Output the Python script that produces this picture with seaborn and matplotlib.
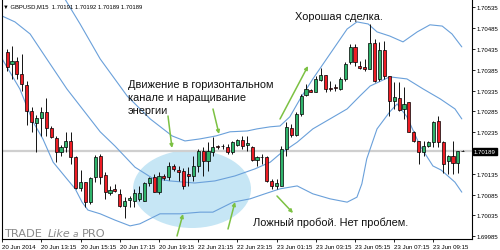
import numpy as np
import pandas as pd
import matplotlib
matplotlib.use("Agg")
import matplotlib.pyplot as plt
import seaborn as sns
from matplotlib.patches import Ellipse
from matplotlib.transforms import Affine2D, blended_transform_factory

# ---------------- data ----------------
bars = list(range(1, 95))
opens = [1.70428, 1.70399, 1.70406, 1.70375, 1.70348, 1.70286, 1.70257, 1.70269, 1.70284, 1.70245,
         1.70221, 1.70187, 1.70200, 1.70214, 1.70175, 1.70101, 1.70115, 1.70067, 1.70127, 1.70178,
         1.70132, 1.70089, 1.70099, 1.70087, 1.70058, 1.70072, 1.70070, 1.70075, 1.70070, 1.70113,
         1.70127, 1.70091, 1.70130, 1.70127, 1.70154, 1.70144, 1.70142, 1.70135, 1.70130, 1.70154,
         1.70190, 1.70166, 1.70187, 1.70202, 1.70202, 1.70200, 1.70187, 1.70204, 1.70216, 1.70204,
         1.70200, 1.70168, 1.70175, 1.70175, 1.70118, 1.70106, 1.70106, 1.70195, 1.70245, 1.70228,
         1.70279, 1.70324, 1.70336, 1.70332, 1.70360, 1.70372, 1.70341, 1.70344, 1.70339, 1.70363,
         1.70404, 1.70440, 1.70394, 1.70392, 1.70387, 1.70449, 1.70363, 1.70432, 1.70370, 1.70310,
         1.70317, 1.70291, 1.70308, 1.70236, 1.70214, 1.70187, 1.70202, 1.70211, 1.70262, 1.70211,
         1.70166, 1.70178, 1.70161, 1.70191]
highs = [1.70435, 1.70442, 1.70416, 1.70423, 1.70358, 1.70296, 1.70276, 1.70296, 1.70317, 1.70250,
         1.70226, 1.70204, 1.70236, 1.70236, 1.70178, 1.70144, 1.70115, 1.70127, 1.70180, 1.70183,
         1.70139, 1.70106, 1.70111, 1.70099, 1.70079, 1.70082, 1.70099, 1.70106, 1.70115, 1.70127,
         1.70135, 1.70139, 1.70135, 1.70163, 1.70159, 1.70154, 1.70149, 1.70151, 1.70178, 1.70195,
         1.70200, 1.70211, 1.70223, 1.70204, 1.70207, 1.70207, 1.70214, 1.70219, 1.70226, 1.70226,
         1.70202, 1.70178, 1.70183, 1.70178, 1.70123, 1.70123, 1.70202, 1.70260, 1.70255, 1.70284,
         1.70327, 1.70351, 1.70339, 1.70370, 1.70389, 1.70372, 1.70358, 1.70351, 1.70368, 1.70404,
         1.70447, 1.70447, 1.70406, 1.70411, 1.70495, 1.70459, 1.70452, 1.70454, 1.70370, 1.70356,
         1.70356, 1.70344, 1.70308, 1.70238, 1.70214, 1.70214, 1.70214, 1.70262, 1.70274, 1.70214,
         1.70180, 1.70214, 1.70191, 1.70192]
lows = [1.70382, 1.70363, 1.70363, 1.70334, 1.70252, 1.70236, 1.70187, 1.70226, 1.70226, 1.70221,
        1.70163, 1.70178, 1.70187, 1.70159, 1.70099, 1.70094, 1.70055, 1.70063, 1.70115, 1.70111,
        1.70075, 1.70084, 1.70091, 1.70055, 1.70029, 1.70055, 1.70055, 1.70070, 1.70070, 1.70106,
        1.70091, 1.70087, 1.70120, 1.70120, 1.70142, 1.70118, 1.70099, 1.70106, 1.70118, 1.70139,
        1.70130, 1.70142, 1.70178, 1.70195, 1.70195, 1.70183, 1.70183, 1.70202, 1.70195, 1.70190,
        1.70166, 1.70154, 1.70159, 1.70115, 1.70099, 1.70099, 1.70106, 1.70178, 1.70224, 1.70226,
        1.70274, 1.70322, 1.70332, 1.70332, 1.70358, 1.70332, 1.70334, 1.70334, 1.70336, 1.70358,
        1.70399, 1.70394, 1.70387, 1.70382, 1.70387, 1.70356, 1.70358, 1.70363, 1.70274, 1.70291,
        1.70286, 1.70267, 1.70236, 1.70212, 1.70159, 1.70178, 1.70200, 1.70200, 1.70200, 1.70137,
        1.70135, 1.70135, 1.70137, 1.70189]
closes = [1.70392, 1.70406, 1.70375, 1.70351, 1.70286, 1.70260, 1.70269, 1.70284, 1.70245, 1.70224,
          1.70187, 1.70200, 1.70214, 1.70175, 1.70101, 1.70115, 1.70067, 1.70125, 1.70175, 1.70127,
          1.70091, 1.70096, 1.70094, 1.70058, 1.70070, 1.70077, 1.70089, 1.70089, 1.70113, 1.70125,
          1.70091, 1.70130, 1.70125, 1.70154, 1.70147, 1.70139, 1.70106, 1.70130, 1.70154, 1.70190,
          1.70166, 1.70190, 1.70200, 1.70200, 1.70202, 1.70187, 1.70211, 1.70216, 1.70202, 1.70209,
          1.70168, 1.70175, 1.70175, 1.70118, 1.70106, 1.70113, 1.70195, 1.70248, 1.70228, 1.70279,
          1.70322, 1.70339, 1.70332, 1.70363, 1.70372, 1.70339, 1.70339, 1.70341, 1.70363, 1.70399,
          1.70440, 1.70404, 1.70389, 1.70387, 1.70449, 1.70358, 1.70432, 1.70370, 1.70310, 1.70320,
          1.70288, 1.70303, 1.70236, 1.70214, 1.70187, 1.70202, 1.70211, 1.70260, 1.70211, 1.70159,
          1.70178, 1.70161, 1.70191, 1.70189]

# Bollinger bands, sampled along the drawn curves (bar position, price)
upper_bar = [11.0, 12.8, 15.9, 20.0, 23.4, 25.5, 30.2, 34.7, 37.3, 40.4, 43.6, 46.5, 50.0, 52.0,
             54.7, 56.7, 58.7, 60.8, 63.4, 66.9, 70.4, 72.4, 74.7, 76.5, 79.1, 81.8, 84.7, 87.3,
             89.8, 91.8, 93.8]
upper_px = [1.70574, 1.70555, 1.70495, 1.70411, 1.70356, 1.70322, 1.70267, 1.70226, 1.70214,
            1.70219, 1.70226, 1.70236, 1.70238, 1.70243, 1.70248, 1.70250, 1.70272, 1.70315,
            1.70363, 1.70423, 1.70483, 1.70500, 1.70495, 1.70476, 1.70466, 1.70452, 1.70476,
            1.70493, 1.70490, 1.70471, 1.70440]
mid_bar = [0.0, 2.6, 5.7, 9.1, 13.2, 20.0, 23.0, 27.1, 30.6, 34.2, 39.3, 43.4, 47.5, 51.6, 54.7,
           56.7, 60.2, 63.4, 66.9, 70.4, 73.0, 75.1, 79.1, 82.6, 85.9, 89.4, 92.4, 93.8]
mid_px = [1.70514, 1.70500, 1.70471, 1.70411, 1.70339, 1.70236, 1.70202, 1.70151, 1.70125,
          1.70118, 1.70113, 1.70118, 1.70130, 1.70147, 1.70163, 1.70183, 1.70211, 1.70243,
          1.70267, 1.70291, 1.70322, 1.70346, 1.70368, 1.70363, 1.70339, 1.70315, 1.70291, 1.70267]
lower_bar = [0.0, 3.6, 6.3, 8.3, 10.4, 13.2, 14.9, 16.3, 17.5, 20.0, 23.0, 26.1, 28.1, 32.2, 36.3,
             40.4, 43.0, 47.1, 50.6, 53.6, 56.7, 60.2, 63.4, 66.9, 70.4, 72.4, 73.4, 74.4, 76.5,
             79.1, 80.6, 82.6, 85.3, 87.9, 89.6, 92.4, 93.8]
lower_px = [1.70411, 1.70339, 1.70260, 1.70219, 1.70163, 1.70123, 1.70099, 1.70067, 1.70048,
            1.70039, 1.70024, 1.70010, 1.70015, 1.70039, 1.70039, 1.70043, 1.70043, 1.70067,
            1.70075, 1.70087, 1.70099, 1.70106, 1.70087, 1.70075, 1.70067, 1.70079, 1.70111,
            1.70171, 1.70243, 1.70284, 1.70303, 1.70272, 1.70202, 1.70154, 1.70144, 1.70115, 1.70091]

current_price = 1.70189
tick_bars = [0, 8, 16, 24, 32, 40, 48, 56, 64, 72, 80, 88]
tick_labels = ["20 Jun 2014", "20 Jun 13:15", "20 Jun 15:15", "20 Jun 17:15", "20 Jun 19:15",
               "22 Jun 21:15", "22 Jun 23:15", "23 Jun 01:15", "23 Jun 03:15", "23 Jun 05:15",
               "23 Jun 07:15", "23 Jun 09:15"]
price_ticks = [1.69985, 1.70035, 1.70085, 1.70135, 1.70185, 1.70235, 1.70285, 1.70335,
               1.70385, 1.70435, 1.70485, 1.70535]
header = "\u25BC GBPUSD,M15  1.70191 1.70192 1.70189 1.70189"

# ---------------- figure ----------------
sns.set_theme(style="white")
plt.rcParams['font.family'] = ['DejaVu Sans']
small = ["Liberation Sans", "DejaVu Sans"]

W, H = 500, 251
fig = plt.figure(figsize=(W / 100, H / 100), dpi=100)
fig.patch.set_facecolor("white")
ax = fig.add_axes([1.7 / W, 1 - 240 / H, (472 - 1.7) / W, 240 / H])
ax.set_facecolor("white")
pix = Affine2D().scale(1 / W, -1 / H).translate(0, 1) + fig.transFigure

ax.set_xlim(-0.1, 95.88)
ax.set_ylim(1.699785, 1.70555)

# highlighted ellipse
ax.add_patch(Ellipse((192, 190), 118, 78, transform=pix, facecolor="#c6e6f5",
                     edgecolor="none", zorder=1.1))

# current price line
ax.axhline(current_price, color="#cfcfcf", lw=1.6, zorder=1.2)

# bands
band_col = "#6aa0da"
for bx, by in [(upper_bar, upper_px), (mid_bar, mid_px), (lower_bar, lower_px)]:
    sns.lineplot(x=bx, y=by, ax=ax, color=band_col, lw=0.8, zorder=2, sort=False,
                 estimator=None)

# candles
df = pd.DataFrame({"bar": bars, "o": opens, "h": highs, "l": lows, "c": closes})
ax.vlines(df["bar"], df["l"], df["h"], color="#111111", lw=0.7, zorder=3)
up = df["c"] >= df["o"]
body_bottom = np.minimum(df["o"], df["c"])
body_h = np.abs(df["c"] - df["o"])
colors = np.where(up, "#2fb36b", "#ee1c24")
ax.bar(df["bar"], body_h, bottom=body_bottom, width=0.62, color=colors,
       edgecolor="black", linewidth=0.5, zorder=4)

# axes styling
for s in ["left", "bottom", "right"]:
    ax.spines[s].set_visible(True)
    ax.spines[s].set_color("black")
    ax.spines[s].set_linewidth(0.8)
ax.spines["top"].set_visible(False)

ax.yaxis.tick_right()
ax.set_yticks(price_ticks)
ax.set_yticklabels(["" if abs(p - 1.70185) < 1e-7 else f"{p:.5f}" for p in price_ticks],
                   family=small)
ax.tick_params(axis="y", direction="out", length=2.0, width=0.6, labelsize=4.3, pad=1.2,
               colors="black", right=True, left=False)
ax.set_xticks(tick_bars)
ax.set_xticklabels(tick_labels, family=small)
ax.tick_params(axis="x", direction="out", length=2.5, width=0.6, labelsize=4.4, pad=1.0,
               colors="black", bottom=True)
for lab in ax.get_xticklabels():
    lab.set_ha("left")
ax.set_xlabel("")
ax.set_ylabel("")
ax.grid(False)

# current price label on axis
ax.text(1.004, current_price, "1.70189", transform=blended_transform_factory(ax.transAxes, ax.transData),
        va="center", ha="left", fontsize=4.3, family=small, color="white", zorder=10, clip_on=False,
        bbox=dict(boxstyle="square,pad=0.2", fc="black", ec="black"))

# header
ax.text(3, 6.5, header, transform=pix, fontsize=4.2, family=small, va="center", ha="left",
        color="black")

# annotation texts
tfont = dict(family=["Liberation Sans", "DejaVu Sans"], fontsize=7.9, color="#111111")
ax.text(295, 17, "Хорошая сделка.", transform=pix, va="center", ha="left", **tfont)
ax.text(128, 85, "Движение в горизонтальном", transform=pix, va="center", ha="left", **tfont)
ax.text(128, 98, "канале и наращивание", transform=pix, va="center", ha="left", **tfont)
ax.text(128, 111, "энергии", transform=pix, va="center", ha="left", **tfont)
ax.text(253, 223, "Ложный пробой. Нет проблем.", transform=pix, va="center", ha="left", **tfont)

# watermark
wm = dict(color="#8a8a8a", va="baseline", ha="left", transform=pix)
ax.text(4, 237, "TRADE", fontsize=8.2, **wm)
ax.text(48, 237, "Like", fontsize=8.0, style="italic", **wm)
ax.text(73, 237, "a", fontsize=6.5, style="italic", **wm)
ax.text(82, 237, "PRO", fontsize=8.2, **wm)

# arrows
arrow_col = "#7cc143"
arrows = [((168, 117), (172, 149)), ((213, 110), (219, 135)), ((280, 120), (308, 67)),
          ((177, 237), (183, 215)), ((228, 230), (235, 203)), ((277, 197), (293, 214))]
for start, end in arrows:
    ax.annotate("", xy=end, xytext=start, xycoords=pix, textcoords=pix,
                arrowprops=dict(arrowstyle="-|>", color=arrow_col, lw=1.1, mutation_scale=5,
                                shrinkA=0, shrinkB=0), zorder=6)

fig.savefig("out.png", dpi=100, facecolor="white")
